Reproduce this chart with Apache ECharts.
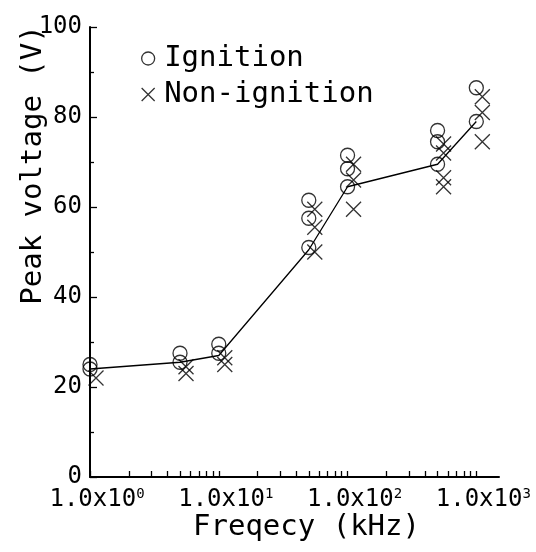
<!DOCTYPE html>
<html lang="en">
<head>
    <meta charset="UTF-8">
    <title>Peak voltage vs frequency</title>
    <script src="https://cdn.jsdelivr.net/npm/echarts@6.0.0/dist/echarts.min.js"></script>
    <style>
        html, body { margin: 0; padding: 0; background: #fff; }
        #chart { width: 536px; height: 552px; }
    </style>
</head>
<body>
    <div id="chart"></div>
    <script>
        // data
        var ignitionFreq = [1, 1, 5, 5, 10, 10, 50, 50, 50, 100, 100, 100, 500, 500, 500, 1000, 1000];
        var ignitionVolt = [25, 24, 27.5, 25.5, 29.5, 27.5, 61.5, 57.5, 51, 71.5, 68.5, 64.5, 77, 74.5, 69.5, 86.5, 79];

        var nonIgnFreq = [1, 5, 5, 10, 10, 50, 50, 50, 100, 100, 100, 500, 500, 500, 500, 1000, 1000, 1000];
        var nonIgnVolt = [22, 24.5, 23, 26.5, 25, 59.5, 55.5, 50, 69.5, 66, 59.5, 74, 72, 66.5, 64.5, 84.5, 81, 74.5];

        var meanFreq = [1, 5, 10, 50, 100, 500, 1000];
        var meanVolt = [24, 25.5, 27, 50.5, 64.5, 69.5, 79];

        var xMajorTicks = [1, 10, 100, 1000];
        var xMinorTicks = [2, 3, 4, 5, 6, 7, 8, 9,
            20, 30, 40, 50, 60, 70, 80, 90,
            200, 300, 400, 500, 600, 700, 800, 900];

        var FONT = 'DejaVu Sans Mono';
        var CROSS = 'path://M0,0L10,10M10,0L0,10';

        function pairs(xs, ys) {
            return xs.map(function (x, i) { return [x, ys[i]]; });
        }

        var chart = echarts.init(document.getElementById('chart'));
        var option = {
            backgroundColor: '#fff',
            animation: false,
            grid: { left: 90, top: 27, right: 37, bottom: 75, containLabel: false, outerBoundsMode: 'none' },
            legend: {
                orient: 'vertical',
                left: 136,
                top: 39,
                itemGap: 7,
                itemWidth: 22,
                itemHeight: 13,
                textStyle: { fontFamily: FONT, fontSize: 29, color: '#000' },
                data: [
                    { name: 'Ignition', icon: 'circle',
                      itemStyle: { color: 'rgba(0,0,0,0)', borderColor: '#000', borderWidth: 1.3 } },
                    { name: 'Non-ignition', icon: CROSS,
                      itemStyle: { color: 'rgba(0,0,0,0)', borderColor: '#000', borderWidth: 1.3 } }
                ]
            },
            xAxis: {
                type: 'log',
                logBase: 10,
                min: 1,
                max: 1500,
                name: 'Freqecy (kHz)',
                nameLocation: 'middle',
                nameGap: 36,
                nameMoveOverlap: false,
                nameTextStyle: { fontFamily: FONT, fontSize: 29, color: '#000', padding: [0, 0, 0, 24] },
                axisLine: { lineStyle: { color: '#000', width: 2 } },
                axisTick: {
                    inside: true,
                    length: 6,
                    lineStyle: { color: '#000', width: 1.3 },
                    customValues: xMajorTicks.concat(xMinorTicks)
                },
                axisLabel: {
                    customValues: xMajorTicks,
                    margin: 10,
                    padding: [0, 0, 0, 14],
                    formatter: function (v) {
                        var e = Math.round(Math.log(v) / Math.LN10);
                        return '{b|1.0x10}{s|' + e + '}';
                    },
                    rich: {
                        b: { fontFamily: FONT, fontSize: 24, color: '#000', lineHeight: 26 },
                        s: { fontFamily: FONT, fontSize: 14, color: '#000', lineHeight: 14, verticalAlign: 'top' }
                    }
                },
                splitLine: { show: false },
                minorTick: { show: false }
            },
            yAxis: {
                type: 'value',
                min: 0,
                max: 100,
                interval: 20,
                name: 'Peak voltage (V)',
                nameLocation: 'middle',
                nameRotate: 90,
                nameGap: 42,
                nameMoveOverlap: false,
                nameTextStyle: { fontFamily: FONT, fontSize: 29, color: '#000', padding: [0, 0, 0, 174] },
                axisLine: { show: true, lineStyle: { color: '#000', width: 2 } },
                axisTick: { show: true, inside: true, length: 7, lineStyle: { color: '#000', width: 1.3 } },
                minorTick: { show: true, splitNumber: 2, length: 4, lineStyle: { color: '#000', width: 1.3 } },
                axisLabel: { fontFamily: FONT, fontSize: 24, color: '#000', margin: 8 },
                splitLine: { show: false }
            },
            series: [
                {
                    name: 'Mean',
                    type: 'line',
                    data: pairs(meanFreq, meanVolt),
                    showSymbol: false,
                    lineStyle: { color: '#000', width: 1.3 },
                    z: 1
                },
                {
                    name: 'Ignition',
                    type: 'scatter',
                    data: pairs(ignitionFreq, ignitionVolt),
                    symbol: 'circle',
                    symbolSize: 14,
                    itemStyle: { color: 'rgba(0,0,0,0)', borderColor: '#000', borderWidth: 1.3 },
                    z: 3
                },
                {
                    name: 'Non-ignition',
                    type: 'scatter',
                    data: pairs(nonIgnFreq, nonIgnVolt),
                    symbol: CROSS,
                    symbolSize: 15,
                    symbolOffset: [6, 0],
                    itemStyle: { color: 'rgba(0,0,0,0)', borderColor: '#000', borderWidth: 1.3 },
                    z: 3
                }
            ]
        };
        chart.setOption(option);
    </script>
</body>
</html>
